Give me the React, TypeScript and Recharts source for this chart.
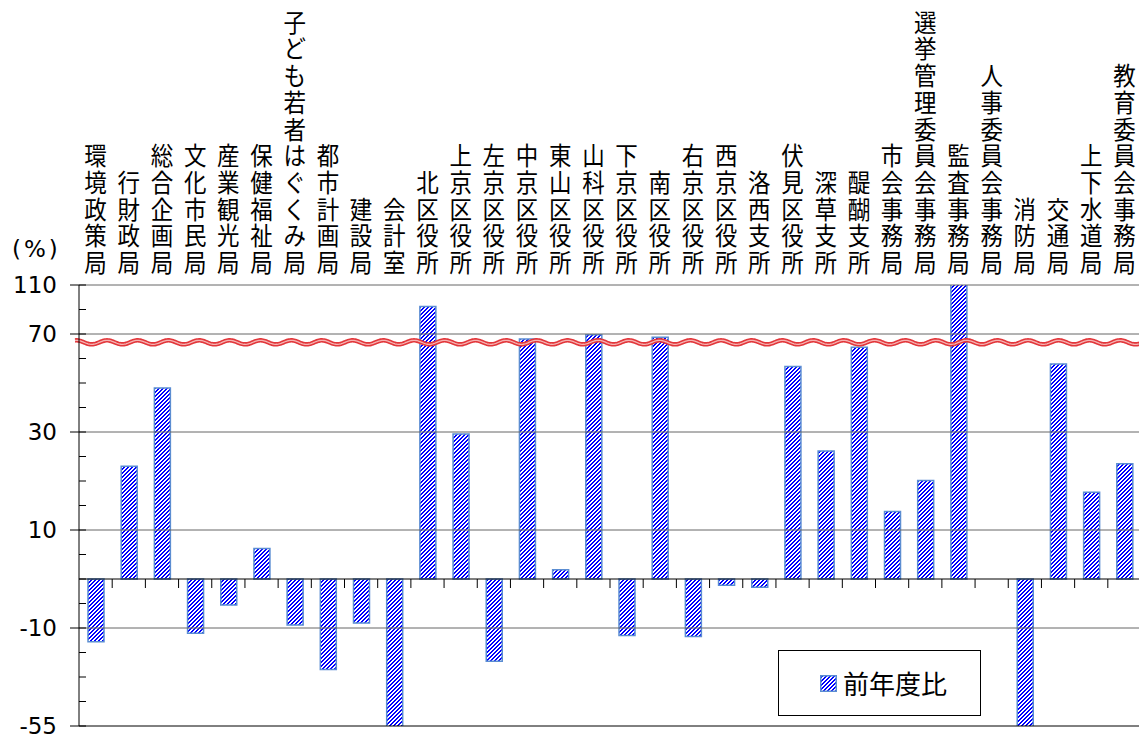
import React from "react";
import { Bar, BarChart, Legend, ReferenceLine, XAxis, YAxis } from "recharts";

const categories = [
  "環境政策局",
  "行財政局",
  "総合企画局",
  "文化市民局",
  "産業観光局",
  "保健福祉局",
  "子ども若者はぐくみ局",
  "都市計画局",
  "建設局",
  "会計室",
  "北区役所",
  "上京区役所",
  "左京区役所",
  "中京区役所",
  "東山区役所",
  "山科区役所",
  "下京区役所",
  "南区役所",
  "右京区役所",
  "西京区役所",
  "洛西支所",
  "伏見区役所",
  "深草支所",
  "醍醐支所",
  "市会事務局",
  "選挙管理委員会事務局",
  "監査事務局",
  "人事委員会事務局",
  "消防局",
  "交通局",
  "上下水道局",
  "教育委員会事務局",
];

// 前年度比 (%)
const values: (number | null)[] = [
  -16.3, 23.0, 48.0, -12.4, -5.3, 6.2, -9.4, -29.1, -9.0, -58,
  92.4, 29.6, -25.3, 68.0, 1.9, 69.7, -13.4, 68.7, -13.9, -1.3,
  -1.7, 56.7, 26.1, 64.6, 13.8, 20.1, 112, null, -60, 57.8,
  17.7, 23.5,
];

const yTickLabels = [110, 70, 30, 10, -10, -55];
const markerValue = 66.6;
const legendLabel = "前年度比";

// broken axis: value -> axis unit (piecewise linear)
const scaleBreaks: [number, number][] = [
  [-55, -30],
  [-10, -10],
  [30, 30],
  [70, 50],
  [110, 60],
];

function toAxis(v: number | null): number | null {
  if (v === null) return null;
  let i = 0;
  while (i < scaleBreaks.length - 2 && v > scaleBreaks[i + 1][0]) i++;
  const [v0, a0] = scaleBreaks[i];
  const [v1, a1] = scaleBreaks[i + 1];
  return a0 + ((v - v0) * (a1 - a0)) / (v1 - v0);
}

const data = categories.map((name, i) => ({ name, value: values[i], plot: toAxis(values[i]) }));

const AXIS_MIN = -30;
const AXIS_MAX = 60;
const axisTicks: number[] = [];
for (let t = AXIS_MIN; t <= AXIS_MAX; t += 5) axisTicks.push(t);
const majorLabel = new Map(yTickLabels.map((v) => [toAxis(v) as number, v]));

const JP_FONT = '"Noto Sans CJK JP", "Noto Sans", sans-serif';
const NUM_FONT = '"DejaVu Sans", Verdana, sans-serif';
const BAR_STROKE = "#5b8dd2";

// pixel staircase "/" hatch, 4px repeat
function Stripes({ id }: { id: string }) {
  return (
    <pattern id={id} patternUnits="userSpaceOnUse" x="0" y="0" width="4" height="4">
      <rect width="4" height="4" fill="#fff" />
      <path d="M2,0h2v1h-2zM1,1h2v1h-2zM0,2h2v1h-2zM0,3h1v1h-1zM3,3h1v1h-1z" fill="#0000ff" shapeRendering="crispEdges" />
    </pattern>
  );
}

// one character per row, stacked upward from just above the plot
function CategoryTick({ x, y, payload }: any) {
  const chars = Array.from(String(payload.value));
  const n = chars.length;
  const base = y - 13;
  return (
    <g>
      {chars.map((c, j) => (
        <text
          key={j}
          transform={`translate(${x},${base - (n - 1 - j) * 26.7}) scale(0.9,1)`}
          textAnchor="middle"
          fontSize={25}
          fontFamily={JP_FONT}
          fill="#000"
        >
          {c}
        </text>
      ))}
    </g>
  );
}

function ValueTick({ x, y, payload }: any) {
  const label = majorLabel.get(payload.value);
  if (label === undefined) {
    return <line x1={x} x2={x + 7} y1={y} y2={y} stroke="#000" strokeWidth={1} />;
  }
  return (
    <g>
      <line x1={x - 9} x2={x + 7} y1={y} y2={y} stroke="#000" strokeWidth={1} />
      <text x={x - 22} y={y} dy="0.36em" textAnchor="end" fontSize={23} fontFamily={NUM_FONT} fill="#000">
        {label}
      </text>
    </g>
  );
}

function ZeroAxis({ x1, x2, y1 }: any) {
  const step = (x2 - x1) / categories.length;
  return (
    <g>
      <line x1={x1} x2={x2} y1={y1} y2={y1} stroke="#000" strokeWidth={1} />
      {categories.map((_, k) =>
        k === 0 ? null : (
          <line key={k} x1={x1 + k * step} x2={x1 + k * step} y1={y1} y2={y1 + 9} stroke="#000" strokeWidth={1} />
        )
      )}
    </g>
  );
}

function WaveLine({ x1, x2, y1 }: any) {
  const start = x1 - 4;
  let d = "";
  for (let x = start; x <= x2; x += 1) {
    const y = y1 - 2 * Math.cos((2 * Math.PI * (x - 107)) / 30.7);
    d += `${x === start ? "M" : "L"}${x},${y.toFixed(2)}`;
  }
  return (
    <g>
      <path d={d} fill="none" stroke="#e2373b" strokeWidth={4.5} />
      <path d={d} fill="none" stroke="#f6b3b3" strokeWidth={1.3} />
    </g>
  );
}

function LegendBox() {
  return (
    <div
      style={{
        boxSizing: "border-box",
        width: 203,
        height: 66,
        border: "1.5px solid #000",
        background: "#fff",
        display: "flex",
        alignItems: "center",
        paddingLeft: 41,
      }}
    >
      <svg width={17} height={17} style={{ display: "block" }}>
        <defs>
          <Stripes id="legendStripes" />
        </defs>
        <rect x={0.75} y={0.75} width={15.5} height={15.5} fill="url(#legendStripes)" stroke={BAR_STROKE} strokeWidth={1.5} />
      </svg>
      <span style={{ marginLeft: 6, fontFamily: JP_FONT, fontSize: 26, lineHeight: 1, color: "#000" }}>{legendLabel}</span>
    </div>
  );
}

export default function App() {
  return (
    <div style={{ position: "absolute", left: 0, top: 0, width: 1139, height: 738, overflow: "hidden", background: "#fff" }}>
      <div
        style={{ position: "absolute", left: 12, top: 238, fontFamily: NUM_FONT, fontSize: 23, letterSpacing: 3, lineHeight: 1, zIndex: 2 }}
      >
        (%)
      </div>
      <BarChart width={1141} height={738} data={data} margin={{ top: 0, right: 0, left: 0, bottom: 12 }}>
        <defs>
          <Stripes id="stripes" />
        </defs>
        <XAxis
          dataKey="name"
          orientation="top"
          height={285}
          interval={0}
          axisLine={false}
          tickLine={false}
          tickSize={0}
          tickMargin={0}
          tick={<CategoryTick />}
        />
        <YAxis
          type="number"
          domain={[AXIS_MIN, AXIS_MAX]}
          allowDataOverflow
          ticks={axisTicks}
          interval={0}
          width={79}
          axisLine={{ stroke: "#000", strokeWidth: 1 }}
          tickLine={false}
          tickSize={0}
          tickMargin={0}
          tick={<ValueTick />}
        />
        {yTickLabels.map((v) => (
          <ReferenceLine key={v} y={toAxis(v) as number} stroke={v === -55 ? "#000" : "#666"} strokeWidth={1} />
        ))}
        <Legend
          verticalAlign="middle"
          align="center"
          layout="horizontal"
          wrapperStyle={{ position: "absolute", left: 778, top: 650, width: 203, height: 66 }}
          content={() => <LegendBox />}
        />
        <Bar dataKey="plot" name={legendLabel} fill="url(#stripes)" stroke={BAR_STROKE} strokeWidth={1.5} barSize={16} isAnimationActive={false} />
        <ReferenceLine y={0} shape={(p: any) => <ZeroAxis {...p} />} />
        <ReferenceLine y={toAxis(markerValue) as number} shape={(p: any) => <WaveLine {...p} />} />
      </BarChart>
    </div>
  );
}
